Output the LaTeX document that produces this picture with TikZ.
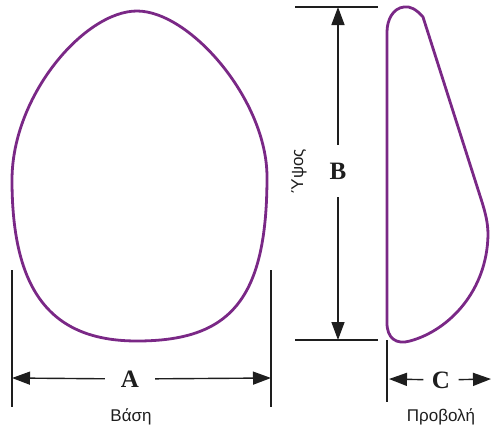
\documentclass[tikz,border=0pt]{standalone}
\usepackage{fontspec}
\setmainfont{Liberation Serif}
\setsansfont{Liberation Sans}
\usetikzlibrary{arrows.meta}
\definecolor{implant}{RGB}{122,40,134}
\definecolor{dimline}{RGB}{30,30,30}
\begin{document}
\begin{tikzpicture}[x=1pt,y=-1pt,
  outline/.style={draw=implant,line width=2.8pt,line join=round},
  extline/.style={draw=dimline,line width=1.4pt},
  dimarrow/.style={draw=dimline,line width=1.4pt,-{Triangle[length=18pt,width=13pt]}},
  letter/.style={font=\fontsize{25}{25}\selectfont\bfseries,text=dimline,inner sep=0pt},
  caption/.style={font=\sffamily\fontsize{17}{17}\selectfont,text=dimline,inner sep=0pt}]
\useasboundingbox (0,0) rectangle (491,429);

% front view (base)
\draw[outline] (137,11)
  .. controls (190,11) and (267,100) .. (267,177)
  .. controls (267,300) and (230,341) .. (137,341)
  .. controls (50,341) and (12,290) .. (12,180)
  .. controls (12,95) and (85,11) .. (137,11) -- cycle;

% side view (projection)
\draw[outline] (387,32) -- (387,323)
  .. controls (387,338) and (396,345) .. (410,341)
  .. controls (450,330) and (487,290) .. (488,235)
  .. controls (488,222) and (485,212) .. (482,202)
  -- (423,17)
  .. controls (416,9) and (410,6) .. (404,7)
  .. controls (393,8) and (387,20) .. (387,32);

% width A
\coordinate (aTopL) at (12,270);  \coordinate (aBotL) at (12,407);
\coordinate (aTopR) at (271,270); \coordinate (aBotR) at (271,407);
\draw[extline] (aTopL) -- (aBotL);
\draw[extline] (aTopR) -- (aBotR);
\coordinate (aL) at (12,378); \coordinate (aR) at (271,378);
\node[letter,minimum width=50pt] (A) at (130,379) {A};
\draw[dimarrow] (A) -- (aL);
\draw[dimarrow] (A) -- (aR);
\node[caption] (base) at (131,417) {Βάση};

% height B
\coordinate (bTopL) at (295,7);   \coordinate (bTopR) at (378,7);
\coordinate (bBotL) at (295,340); \coordinate (bBotR) at (378,340);
\draw[extline] (bTopL) -- (bTopR);
\draw[extline] (bBotL) -- (bBotR);
\coordinate (bT) at (338,7); \coordinate (bB) at (338,340);
\node[letter,minimum height=52pt] (B) at (338,171) {B};
\draw[dimarrow] (B) -- (bT);
\draw[dimarrow] (B) -- (bB);
\node[caption] (height) at (299,171) {\rotatebox{90}{Ύψος}};

% projection C
\coordinate (cTop) at (387,340); \coordinate (cBot) at (387,402);
\draw[extline] (cTop) -- (cBot);
\coordinate (cL) at (389,379); \coordinate (cR) at (491,379);
\node[letter,minimum width=35pt] (C) at (441,380) {C};
\draw[dimarrow] (C) -- (cL);
\draw[dimarrow] (C) -- (cR);
\node[caption] (proj) at (441,417) {Προβολή};
\end{tikzpicture}
\end{document}
